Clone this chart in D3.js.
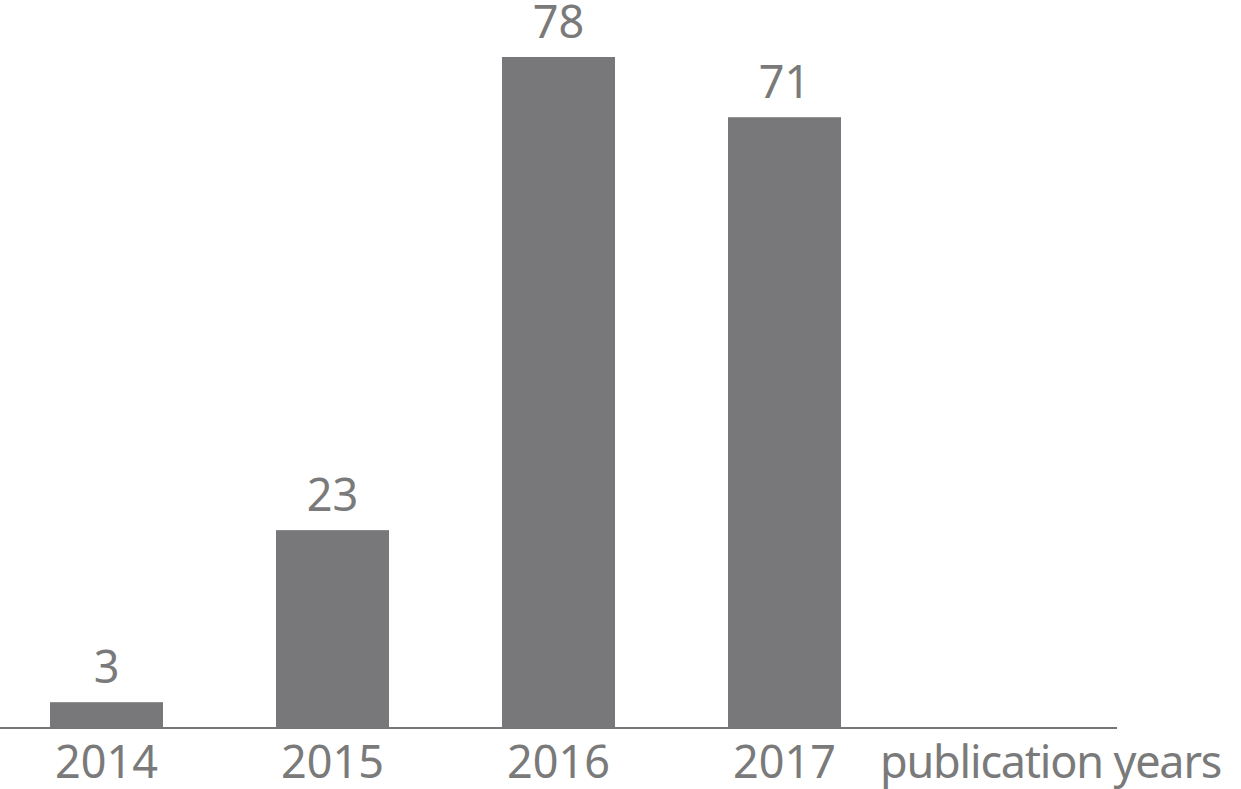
<!DOCTYPE html>
<html>
<head>
<meta charset="utf-8">
<script src="https://cdn.jsdelivr.net/npm/d3@7"></script>
<style>
  html, body { margin: 0; padding: 0; background: #ffffff; }
</style>
</head>
<body>
<div id="chart"></div>
<script>
// Data
const years = ['2014', '2015', '2016', '2017'];
const counts = [3, 23, 78, 71];
const axisTitle = 'publication years';

// Constant
const width = 1241;
const height = 789;
const baseY = 728;
const topY = 57;
const barColor = '#78787a';
const textColor = '#7a7a7a';
const fontFamily = '"Noto Sans", "Open Sans", sans-serif';
const fontSize = '45px';

const xScale = d3.scaleBand()
    .domain(years)
    .range([-6.5, 897.5])
    .paddingInner(0.5)
    .paddingOuter(0.25);

const yScale = d3.scaleLinear()
    .domain([0, d3.max(counts)])
    .range([baseY, topY]);

const data = years.map((y, i) => ({year: y, value: counts[i]}));

const svg = d3.select('#chart')
    .append('svg')
        .attr('width', width)
        .attr('height', height);

// Bars
svg.selectAll('.bar')
    .data(data)
    .enter()
    .append('rect')
        .attr('class', 'bar')
        .attr('x', d => xScale(d.year))
        .attr('y', d => yScale(d.value))
        .attr('width', xScale.bandwidth())
        .attr('height', d => yScale(0) - yScale(d.value))
        .attr('fill', barColor);

// Value labels
svg.selectAll('.value')
    .data(data)
    .enter()
    .append('text')
        .attr('class', 'value')
        .attr('x', d => xScale(d.year) + xScale.bandwidth() / 2)
        .attr('y', d => yScale(d.value) - 19)
        .attr('text-anchor', 'middle')
        .style('font-family', fontFamily)
        .style('font-size', fontSize)
        .attr('fill', textColor)
        .text(d => d.value);

// Baseline
svg.append('line')
    .attr('x1', 0)
    .attr('x2', 1117)
    .attr('y1', yScale(0))
    .attr('y2', yScale(0))
    .attr('stroke', '#77777a')
    .attr('stroke-width', 2);

// Year labels
svg.selectAll('.year')
    .data(years)
    .enter()
    .append('text')
        .attr('class', 'year')
        .attr('x', d => xScale(d) + xScale.bandwidth() / 2)
        .attr('y', 778)
        .attr('text-anchor', 'middle')
        .style('font-family', fontFamily)
        .style('font-size', fontSize)
        .attr('fill', textColor)
        .text(d => d);

svg.append('text')
    .attr('x', 880)
    .attr('y', 778)
    .style('font-family', fontFamily)
    .style('font-size', fontSize)
    .style('letter-spacing', '-1.2px')
    .attr('fill', textColor)
    .text(axisTitle);
</script>
</body>
</html>
